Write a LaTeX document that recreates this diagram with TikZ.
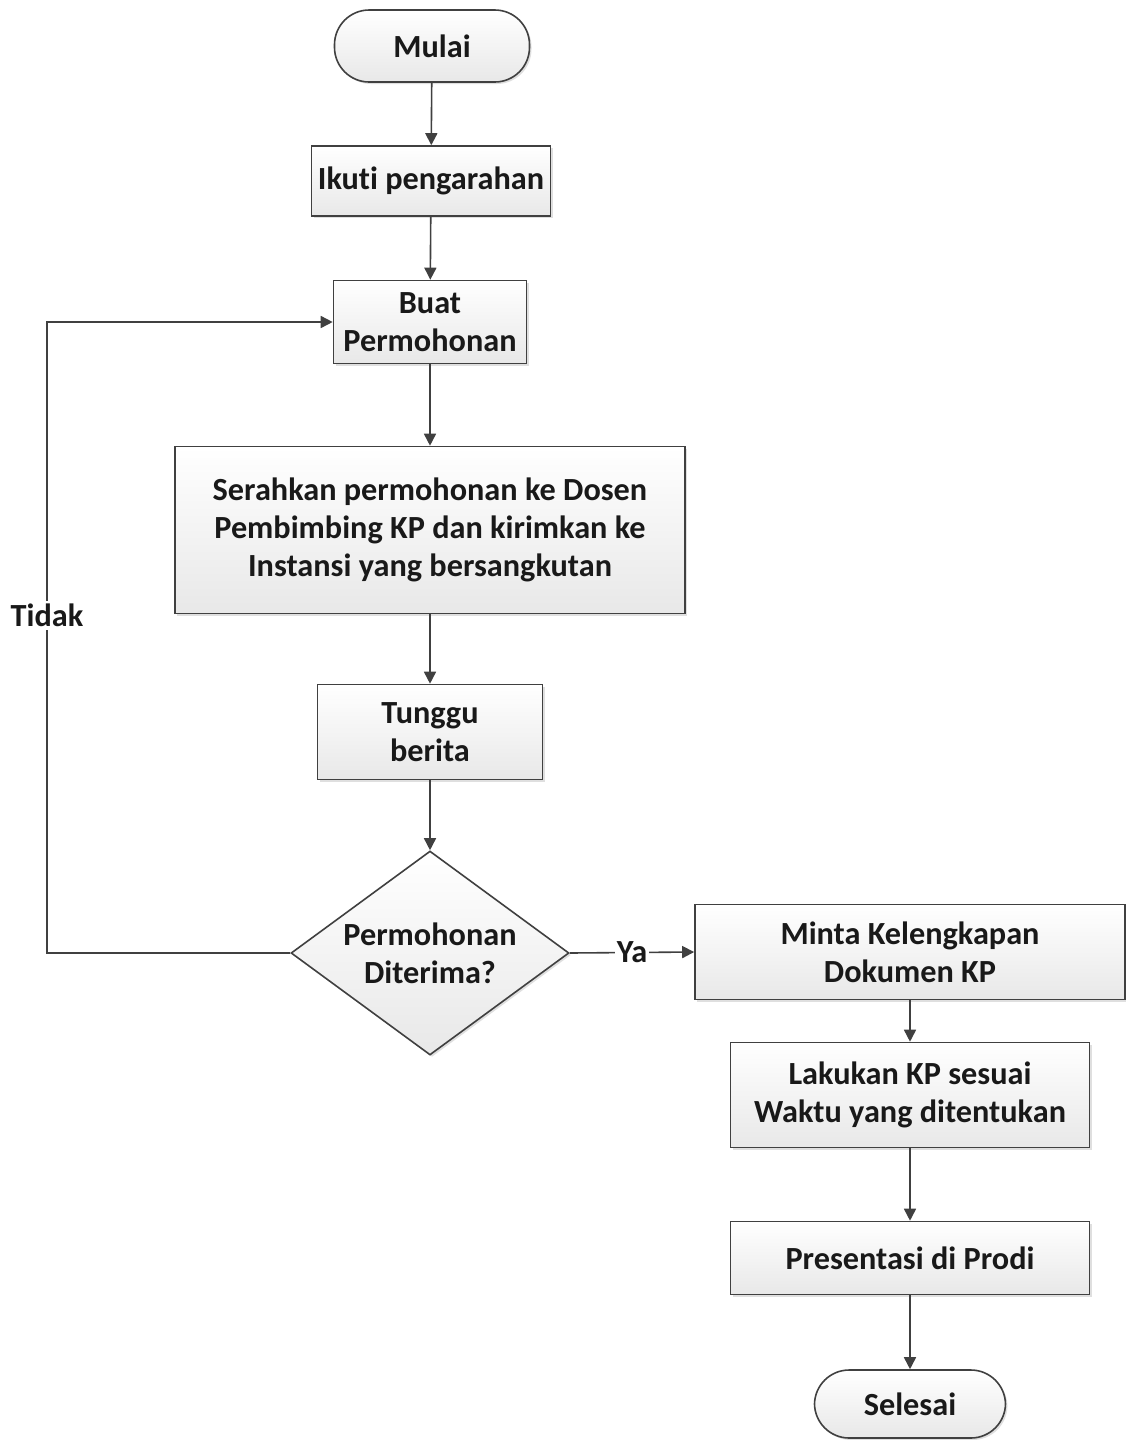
\documentclass[tikz,border=0pt]{standalone}
\usepackage{fontspec}
\setmainfont{Carlito}[Ligatures=NoCommon]
\usetikzlibrary{arrows.meta,shapes.geometric,shadows}
\definecolor{linec}{HTML}{404040}
\definecolor{fillb}{HTML}{E8E8E8}
\begin{document}
\begin{tikzpicture}[x=0.75pt,y=-0.75pt,
  every node/.style={font=\fontsize{24.2}{28.5}\selectfont\bfseries, text=black!90, align=center},
  box/.style={draw=linec, line width=1.2pt, top color=white, bottom color=fillb, inner sep=0pt,
     drop shadow={shadow xshift=1.5pt, shadow yshift=-1.5pt, fill=black!25, opacity=0.5}},
  term/.style={box, rounded corners=26pt},
  dec/.style={draw=linec, line width=1.2pt, diamond, aspect=1.36, top color=white, bottom color=fillb, inner sep=0pt,
     drop shadow={shadow xshift=1.5pt, shadow yshift=-1.5pt, fill=black!25, opacity=0.5}},
  conn/.style={draw=linec, line width=1.2pt, -{Triangle[length=9pt,width=9pt]}}]
\useasboundingbox (0,0) rectangle (1126,1440);
\node[term, minimum width=195*0.75pt, minimum height=72*0.75pt] (mulai) at (432,46) {Mulai};
\node[box, minimum width=239*0.75pt, minimum height=70*0.75pt] (ikuti) at (431,181) {Ikuti pengarahan};
\node[box, minimum width=193*0.75pt, minimum height=83*0.75pt] (buat) at (430,322) {Buat\\Permohonan};
\node[box, minimum width=510*0.75pt, minimum height=167*0.75pt] (serah) at (430,530) {Serahkan permohonan ke Dosen\\Pembimbing KP dan kirimkan ke\\Instansi yang bersangkutan};
\node[box, minimum width=225*0.75pt, minimum height=95*0.75pt] (tunggu) at (430,732) {Tunggu\\berita};
\node[dec, minimum width=278*0.75pt, minimum height=204*0.75pt] (diterima) at (430,953) {Permohonan\\Diterima?};
\node[box, minimum width=430*0.75pt, minimum height=95*0.75pt] (minta) at (910,952) {Minta Kelengkapan\\Dokumen KP};
\node[box, minimum width=359*0.75pt, minimum height=105*0.75pt] (lakukan) at (910,1095) {Lakukan KP sesuai\\Waktu yang ditentukan};
\node[box, minimum width=359*0.75pt, minimum height=73*0.75pt] (pres) at (910,1258) {Presentasi di Prodi};
\node[term, minimum width=191*0.75pt, minimum height=68*0.75pt] (selesai) at (910,1404) {Selesai};
\coordinate (lb) at (47,953);
\coordinate (lt) at (47,322);
\draw[conn] (mulai) -- (ikuti);
\draw[conn] (ikuti) -- (buat);
\draw[conn] (buat) -- (serah);
\draw[conn] (serah) -- (tunggu);
\draw[conn] (tunggu) -- (diterima);
\draw[conn] (diterima.east) -- node[fill=white, inner sep=1pt] (ya) {Ya} (minta.west);
\draw[conn] (minta) -- (lakukan);
\draw[conn] (lakukan) -- (pres);
\draw[conn] (pres) -- (selesai);
\draw[conn] (diterima.west) -- (lb) -- node[pos=0.535, fill=white, inner sep=2pt] (tidak) {Tidak} (lt) -- (buat.west);
\end{tikzpicture}
\end{document}
